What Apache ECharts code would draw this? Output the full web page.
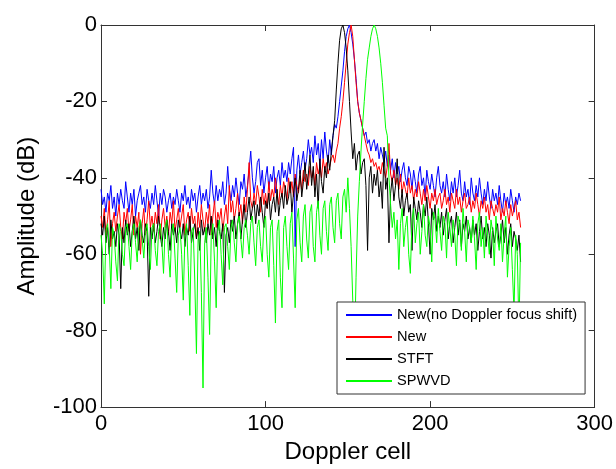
<!DOCTYPE html>
<html>
<head>
<meta charset="utf-8">
<script src="https://cdn.jsdelivr.net/npm/echarts@6/dist/echarts.min.js"></script>
<style>html,body{margin:0;padding:0;background:#fff}#c{width:616px;height:469px}</style>
</head>
<body>
<div id="c"></div>
<script>
const seriesNames = ['New(no Doppler focus shift)', 'New', 'STFT', 'SPWVD'];
const xTicks = [0, 100, 200, 300];
const yTicks = [-100, -80, -60, -40, -20, 0];

const newNoShift = [
-43,-47,-45,-49,-44,-46,-42,-48,-45,-50,-44,-47,-43,-46,-48,-41,
-45,-49,-44,-47,-43,-50,-46,-44,-42,-47,-45,-49,-43,-46,-48,-44,
-47,-42,-46,-50,-44,-47,-43,-45,-49,-46,-44,-48,-45,-47,-43,-46,
-49,-44,-46,-42,-47,-45,-48,-43,-46,-44,-49,-45,-42,-47,-44,-46,
-43,-48,-45,-38,-44,-47,-42,-46,-43,-45,-41,-47,-44,-37,-43,-46,
-42,-45,-40,-44,-47,-41,-43,-39,-45,-42,-38,-33,-40,-44,-41,-36,
-35,-42,-38,-44,-40,-37,-43,-39,-41,-37,-44,-40,-38,-42,-36,-40,
-38,-41,-36,-39,-35,-32,-58,-38,-34,-39,-36,-33,-38,-35,-30,-34,
-32,-36,-29,-34,-31,-37,-30,-35,-28,-33,-36,-30,-34,-29,-26,-27,
-24,-20,-16,-12,-7,-3,-1,0,-2,-5,-9,-14,-20,-23,-25,-27,
-29,-28,-31,-30,-33,-31,-30,-33,-31,-35,-32,-34,-36,-33,-37,-34,
-38,-35,-40,-36,-39,-37,-41,-38,-36,-40,-42,-37,-39,-43,-38,-41,
-44,-39,-37,-42,-40,-45,-38,-41,-43,-39,-42,-45,-40,-37,-42,-44,
-41,-45,-39,-43,-46,-41,-44,-40,-45,-42,-38,-44,-46,-41,-45,-43,
-47,-40,-44,-46,-42,-45,-40,-44,-47,-43,-46,-41,-45,-48,-43,-46,
-44,-47,-42,-46,-49,-44,-47,-45,-48,-43,-46,-49,-45,-47,-44,-46
];
const newMethod = [
-50,-53,-48,-55,-51,-46,-58,-52,-49,-54,-50,-47,-53,-56,-49,-52,
-48,-54,-51,-47,-55,-50,-53,-49,-60,-52,-48,-55,-51,-46,-53,-50,
-54,-49,-52,-47,-56,-51,-48,-53,-50,-55,-49,-52,-46,-54,-51,-48,
-53,-50,-47,-55,-51,-49,-54,-48,-52,-50,-56,-49,-53,-47,-51,-54,
-49,-52,-47,-55,-50,-46,-53,-49,-51,-48,-54,-50,-47,-52,-42,-49,
-46,-51,-48,-44,-50,-47,-52,-45,-49,-43,-36,-46,-48,-44,-47,-42,
-45,-49,-43,-47,-44,-48,-41,-46,-43,-45,-40,-44,-47,-42,-45,-41,
-43,-46,-40,-44,-41,-45,-39,-42,-44,-40,-43,-38,-41,-39,-42,-37,
-40,-38,-42,-36,-39,-37,-40,-35,-38,-36,-39,-37,-35,-34,-36,-33,
-31,-27,-24,-20,-15,-10,-5,-2,0,-3,-9,-15,-20,-23,-25,-27,
-29,-31,-33,-34,-36,-35,-37,-36,-38,-37,-39,-36,-38,-40,-37,-31,
-39,-41,-38,-42,-40,-43,-39,-44,-41,-43,-45,-40,-44,-42,-46,-43,
-45,-41,-44,-47,-43,-46,-42,-45,-48,-44,-46,-43,-47,-45,-44,-48,
-46,-43,-47,-45,-49,-44,-46,-48,-43,-47,-45,-49,-46,-44,-48,-47,
-45,-49,-46,-48,-44,-47,-50,-46,-48,-45,-49,-47,-51,-46,-48,-50,
-47,-49,-45,-51,-48,-50,-46,-49,-52,-47,-50,-48,-46,-51,-49,-53
];
const stft = [
-52,-55,-50,-57,-53,-60,-51,-56,-54,-58,-52,-55,-69,-53,-57,-51,
-55,-52,-58,-54,-50,-56,-53,-59,-51,-55,-57,-52,-54,-71,-53,-56,
-52,-57,-54,-50,-55,-58,-53,-56,-51,-54,-59,-52,-55,-53,-57,-51,
-54,-56,-52,-58,-53,-55,-50,-57,-54,-52,-56,-53,-59,-51,-55,-53,
-57,-52,-55,-50,-56,-53,-58,-51,-54,-56,-52,-70,-55,-53,-57,-51,
-54,-50,-56,-52,-49,-56,-51,-47,-53,-49,-45,-51,-48,-46,-52,-47,
-50,-45,-49,-53,-46,-48,-44,-51,-47,-45,-49,-43,-50,-46,-44,-48,
-42,-47,-45,-41,-49,-44,-40,-46,-43,-38,-45,-41,-36,-43,-39,-34,
-42,-37,-45,-39,-48,-35,-41,-44,-37,-40,-34,-38,-33,-29,-25,-17,
-10,-4,-1,0,-2,-6,-12,-20,-28,-35,-31,-38,-34,-33,-39,-36,
-35,-42,-59,-40,-37,-44,-39,-42,-38,-45,-41,-48,-32,-43,-40,-57,
-44,-40,-46,-42,-35,-45,-48,-43,-50,-46,-44,-49,-47,-59,-45,-48,
-51,-46,-49,-53,-47,-50,-45,-52,-60,-48,-51,-47,-54,-50,-53,-49,
-55,-51,-48,-56,-52,-50,-57,-53,-49,-55,-51,-58,-52,-54,-50,-56,
-53,-57,-51,-55,-52,-59,-54,-50,-56,-53,-58,-52,-55,-61,-53,-57,
-54,-52,-58,-55,-51,-57,-53,-60,-55,-52,-58,-54,-56,-59,-55,-62
];
const spwvd = [
-55,-60,-73,-54,-52,-58,-69,-53,-55,-62,-67,-52,-54,-60,-63,-53,
-52,-58,-64,-54,-52,-57,-62,-53,-51,-56,-61,-54,-52,-58,-64,-53,
-52,-59,-63,-54,-52,-57,-65,-53,-51,-60,-66,-54,-52,-61,-70,-55,
-53,-60,-72,-55,-52,-63,-76,-54,-53,-67,-86,-56,-54,-70,-95,-57,
-53,-66,-81,-55,-52,-62,-74,-54,-51,-60,-68,-53,-52,-58,-64,-53,
-51,-57,-62,-52,-50,-56,-61,-53,-51,-55,-60,-52,-50,-57,-63,-53,
-51,-58,-62,-52,-50,-60,-66,-53,-51,-63,-78,-54,-51,-66,-74,-53,
-50,-58,-64,-52,-49,-61,-74,-51,-48,-57,-62,-50,-47,-56,-61,-49,
-47,-58,-62,-49,-46,-55,-60,-48,-46,-54,-59,-47,-45,-53,-57,-46,
-44,-52,-56,-45,-43,-49,-40,-48,-58,-72,-86,-66,-50,-41,-33,-26,
-20,-14,-9,-6,-3,-1,0,-1,-3,-6,-10,-15,-21,-27,-29,-40,
-47,-53,-49,-56,-51,-64,-52,-48,-58,-53,-50,-60,-65,-51,-48,-57,
-52,-49,-60,-54,-47,-55,-58,-50,-53,-62,-49,-51,-57,-48,-54,-59,
-50,-52,-61,-49,-53,-58,-51,-55,-63,-50,-52,-59,-48,-54,-62,-51,
-53,-57,-50,-56,-64,-52,-49,-58,-53,-61,-50,-55,-60,-51,-54,-63,
-50,-56,-59,-52,-62,-55,-50,-66,-58,-53,-64,-75,-55,-60,-80,-57
];
const seriesValues = [newNoShift, newMethod, stft, spwvd];
const colors = ['#0000ff', '#ff0000', '#000000', '#00ff00'];

const font = '"Liberation Sans", Arial, Helvetica, sans-serif';
const axisColor = '#333333';

function pairs(vals) { return vals.map((v, i) => [i, v]); }

const chart = echarts.init(document.getElementById('c'), null, {renderer: 'canvas'});
const baseX = {
  type: 'value', min: xTicks[0], max: xTicks[xTicks.length - 1], interval: 100,
  axisLine: {show: true, onZero: false, lineStyle: {color: axisColor, width: 1}},
  axisTick: {show: true, inside: true, length: 6, lineStyle: {color: axisColor}},
  splitLine: {show: false}
};
const baseY = {
  type: 'value', min: yTicks[0], max: yTicks[yTicks.length - 1], interval: 20,
  axisLine: {show: true, onZero: false, lineStyle: {color: axisColor, width: 1}},
  axisTick: {show: true, inside: true, length: 6, lineStyle: {color: axisColor}},
  splitLine: {show: false}
};
chart.setOption({
  animation: false,
  backgroundColor: '#ffffff',
  grid: {left: 101, right: 20, top: 25, bottom: 58, containLabel: false},
  xAxis: [
    Object.assign({}, baseX, {
      position: 'bottom',
      name: 'Doppler cell', nameLocation: 'middle', nameGap: 29,
      nameTextStyle: {fontFamily: font, fontSize: 24, color: '#000'},
      axisLabel: {show: true, margin: 6, fontFamily: font, fontSize: 22, color: '#000'}
    }),
    Object.assign({}, baseX, {position: 'top', axisLabel: {show: false}, name: ''})
  ],
  yAxis: [
    Object.assign({}, baseY, {
      position: 'left',
      name: 'Amplitude (dB)', nameLocation: 'middle', nameGap: 62, nameRotate: 90,
      nameTextStyle: {fontFamily: font, fontSize: 24, color: '#000'},
      axisLabel: {show: true, margin: 4, fontFamily: font, fontSize: 22, color: '#000'}
    }),
    Object.assign({}, baseY, {position: 'right', axisLabel: {show: false}, name: ''})
  ],
  legend: {
    orient: 'vertical', left: 337, top: 302,
    backgroundColor: '#ffffff', borderColor: axisColor, borderWidth: 1,
    padding: [5, 8, 5, 9], itemGap: 6,
    itemWidth: 46, itemHeight: 2, icon: 'rect',
    textStyle: {fontFamily: font, fontSize: 14.6, color: '#000', lineHeight: 16},
    data: seriesNames, z: 10
  },
  series: seriesValues.map((vals, k) => ({
    name: seriesNames[k], type: 'line', xAxisIndex: 0, yAxisIndex: 0,
    data: pairs(vals), showSymbol: false, symbol: 'none', sampling: null,
    color: colors[k],
    lineStyle: {color: colors[k], width: 1}, z: 2 + k * 0.1
  }))
});
</script>
</body>
</html>
